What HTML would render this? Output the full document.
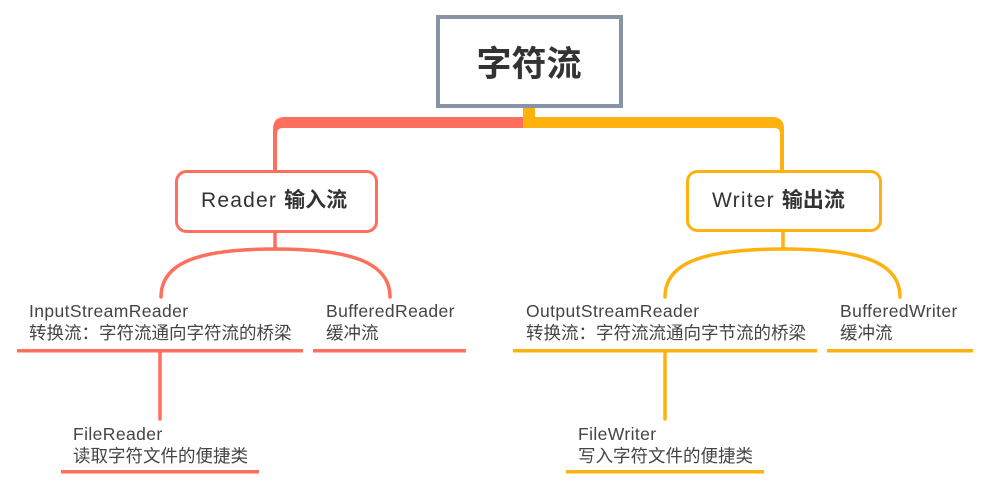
<!DOCTYPE html>
<html><head><meta charset="utf-8"><style>
html,body{margin:0;padding:0;background:#fff;}
svg{display:block;}
text{font-family:"Liberation Sans","Noto Sans CJK SC",sans-serif;}
</style></head><body>
<svg width="988" height="498" viewBox="0 0 988 498" xmlns="http://www.w3.org/2000/svg">
<rect width="988" height="498" fill="#fff"/>
<!-- top connectors -->
<path d="M529 117 L285 117 Q273 117 273 129 L273 171 L277 171 L277 134 Q277 128 283 128 L529 128 Z" fill="#ff6f5e"/>
<path d="M523 117 L772 117 Q784 117 784 129 L784 171 L780 171 L780 134 Q780 128 774 128 L523 128 Z" fill="#ffb20f"/>
<rect x="523" y="106" width="12" height="14" fill="#ffb20f"/>
<!-- root -->
<rect x="438" y="17" width="183" height="89" fill="#fff" stroke="#8893a5" stroke-width="4"/>
<text x="529" y="76" text-anchor="middle" font-size="35" font-weight="bold" fill="#333">字符流</text>
<!-- Reader box -->
<rect x="176.5" y="171.5" width="200" height="60" rx="10" fill="#fff" stroke="#ff6f5e" stroke-width="3"/>
<text x="201" y="207" font-size="21" fill="#333"><tspan letter-spacing="1.2">Reader </tspan><tspan font-weight="bold">输入流</tspan></text>
<!-- Writer box -->
<rect x="687.5" y="171.5" width="193" height="59" rx="10" fill="#fff" stroke="#ffb20f" stroke-width="3"/>
<text x="712" y="207" font-size="21" fill="#333"><tspan letter-spacing="1.2">Writer </tspan><tspan font-weight="bold">输出流</tspan></text>
<!-- red lower connectors -->
<g stroke="#ff6f5e" stroke-width="3.5" fill="none" stroke-linecap="round">
<line x1="275" y1="232" x2="275" y2="249"/>
<path d="M161 297 C161 262 200 249 275 249 C350 249 390 262 390 297"/>
<line x1="160" y1="352" x2="160" y2="419"/>
</g>
<g fill="#ff6f5e">
<rect x="17" y="349" width="286" height="3.5"/>
<rect x="313" y="349" width="153" height="3.5"/>
<rect x="61" y="470" width="198" height="3.5"/>
</g>
<!-- orange lower connectors -->
<g stroke="#ffb20f" stroke-width="3.5" fill="none" stroke-linecap="round">
<line x1="783" y1="232" x2="783" y2="249"/>
<path d="M665 297 C665 262 705 249 783 249 C861 249 900 262 900 297"/>
<line x1="665" y1="352" x2="665" y2="419"/>
</g>
<g fill="#ffb20f">
<rect x="513" y="349" width="304" height="3.5"/>
<rect x="827" y="349" width="146" height="3.5"/>
<rect x="566" y="470" width="198" height="3.5"/>
</g>
<!-- labels -->
<g font-size="17.5" fill="#444">
<text x="29" y="317" letter-spacing="0.4">InputStreamReader</text>
<text x="29" y="339">转换流：字符流通向字符流的桥梁</text>
<text x="326" y="317" letter-spacing="0.4">BufferedReader</text>
<text x="326" y="339">缓冲流</text>
<text x="73" y="440" letter-spacing="0.4">FileReader</text>
<text x="73" y="462">读取字符文件的便捷类</text>
<text x="526" y="317" letter-spacing="0.4">OutputStreamReader</text>
<text x="526" y="339">转换流：字符流流通向字节流的桥梁</text>
<text x="840" y="317" letter-spacing="0.4">BufferedWriter</text>
<text x="840" y="339">缓冲流</text>
<text x="578" y="440" letter-spacing="0.4">FileWriter</text>
<text x="578" y="462">写入字符文件的便捷类</text>
</g>
</svg>
</body></html>
